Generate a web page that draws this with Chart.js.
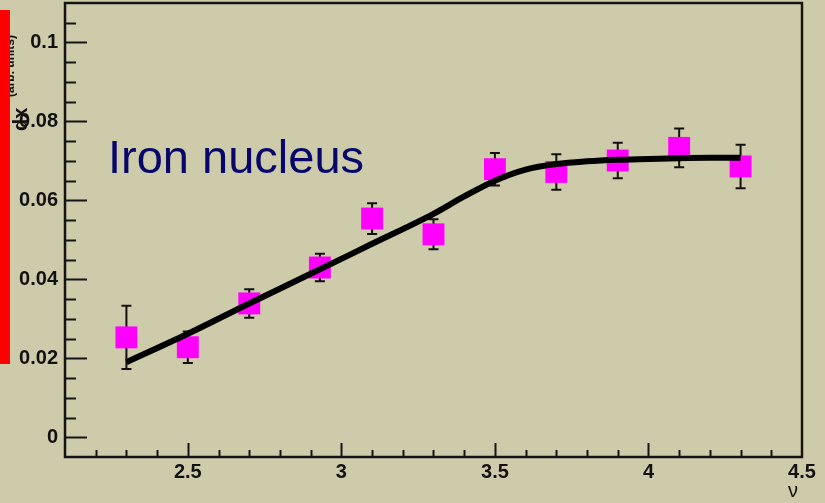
<!DOCTYPE html>
<html>
<head>
<meta charset="utf-8">
<script src="https://cdn.jsdelivr.net/npm/chart.js@4.4.0/dist/chart.umd.min.js"></script>
<style>
html, body { margin: 0; padding: 0; background: #cecbab; }
#wrap { position: relative; width: 825px; height: 503px; }
#redbar { position: absolute; left: 0; top: 10px; width: 10px; height: 354px; background: #ff0000; }
</style>
</head>
<body>
<div id="wrap">
  <canvas id="chart" width="825" height="503"></canvas>
  <div id="redbar"></div>
</div>
<script>
// measured points (nu, ratio, error)
var nuValues    = [2.3, 2.5, 2.7, 2.93, 3.1, 3.3, 3.5, 3.7, 3.9, 4.1, 4.3];
var ratioValues = [0.0253, 0.0228, 0.0339, 0.0430, 0.0554, 0.0514, 0.0679, 0.0672, 0.0701, 0.0733, 0.0686];
var ratioErrors = [0.0080, 0.0040, 0.0036, 0.0035, 0.0039, 0.0038, 0.0041, 0.0045, 0.0045, 0.0049, 0.0055];

// fit curve
var fitNu     = [2.3, 2.5, 2.7, 2.9, 3.1, 3.3, 3.4, 3.5, 3.6, 3.7, 3.8, 3.9, 4.0, 4.1, 4.2, 4.3];
var fitValues = [0.0190, 0.0262, 0.0339, 0.0414, 0.0490, 0.0566, 0.0610, 0.0650, 0.0678, 0.0692, 0.0699, 0.0703, 0.0705, 0.0707, 0.0708, 0.0708];

var xTicks = [2.5, 3, 3.5, 4, 4.5];
var yTicks = [0, 0.02, 0.04, 0.06, 0.08, 0.1];

var ctx = document.getElementById('chart');

var points = nuValues.map(function(v, i) { return {x: v, y: ratioValues[i]}; });
var fit = fitNu.map(function(v, i) { return {x: v, y: fitValues[i]}; });

// frame, inner tick marks, error bars and texts
var decor = {
  id: 'decor',
  beforeDatasetsDraw: function(chart) {
    var c = chart.ctx, a = chart.chartArea;
    var xs = chart.scales.x, ys = chart.scales.y;
    c.save();
    c.strokeStyle = '#141414';
    c.lineWidth = 2;
    // y ticks every 0.005, major every 0.02
    for (var k = 0; k <= 21; k++) {
      var yv = k * 0.005;
      var py = Math.round(ys.getPixelForValue(yv)) + 0.5;
      var len = (k % 4 === 0) ? 22 : 11;
      c.beginPath(); c.moveTo(a.left, py); c.lineTo(a.left + len, py); c.stroke();
    }
    // x ticks every 0.1, major every 0.5
    for (var j = 22; j <= 44; j++) {
      var xv = j / 10;
      var px = Math.round(xs.getPixelForValue(xv)) + 0.5;
      var l2 = (j % 5 === 0) ? 14 : 7;
      c.beginPath(); c.moveTo(px, a.bottom); c.lineTo(px, a.bottom - l2); c.stroke();
    }
    c.lineWidth = 2.5;
    c.strokeRect(a.left, a.top, a.right - a.left, a.bottom - a.top);

    // error bars under the squares
    c.lineWidth = 2;
    c.strokeStyle = '#111';
    nuValues.forEach(function(v, i) {
      var x = xs.getPixelForValue(v);
      var yt = ys.getPixelForValue(ratioValues[i] + ratioErrors[i]);
      var yb = ys.getPixelForValue(ratioValues[i] - ratioErrors[i]);
      c.beginPath();
      c.moveTo(x, yt); c.lineTo(x, yb);
      c.moveTo(x - 5, yt); c.lineTo(x + 5, yt);
      c.moveTo(x - 5, yb); c.lineTo(x + 5, yb);
      c.stroke();
    });
    c.restore();
  },
  afterDraw: function(chart) {
    var c = chart.ctx;
    c.save();
    c.fillStyle = '#06066b';
    c.font = '47px "Liberation Sans", Arial, sans-serif';
    c.textBaseline = 'alphabetic';
    c.fillText('Iron nucleus', 108, 173);

    c.fillStyle = '#111';
    c.font = '20px "Liberation Sans", Arial, sans-serif';
    c.textAlign = 'center';
    c.fillText('\u03bd', 793, 497);

    // y axis title, rotated
    c.textAlign = 'left';
    c.translate(27, 131);
    c.rotate(-Math.PI / 2);
    c.font = 'bold 20px "Liberation Sans", Arial, sans-serif';
    c.fillText('dx', 0, 0);
    c.font = 'bold 12px "Liberation Sans", Arial, sans-serif';
    c.fillText('(arb. units)', 34, -13);
    c.restore();
  }
};

var myChart = new Chart(ctx, {
  type: 'scatter',
  data: {
    datasets: [
      {
        label: 'fit',
        type: 'line',
        data: fit,
        borderColor: '#000',
        borderWidth: 6,
        pointRadius: 0,
        fill: false,
        cubicInterpolationMode: 'monotone',
        order: 0
      },
      {
        label: 'data',
        data: points,
        pointStyle: 'rect',
        pointRadius: 15.5,
        pointHoverRadius: 15.5,
        backgroundColor: '#ff00ff',
        borderWidth: 0,
        order: 1
      }
    ]
  },
  options: {
    responsive: false,
    animation: false,
    devicePixelRatio: 1,
    layout: { autoPadding: false, padding: { top: 3, right: 23, left: 0, bottom: 0 } },
    plugins: { legend: { display: false }, tooltip: { enabled: false } },
    scales: {
      x: {
        type: 'linear',
        min: 2.1,
        max: 4.5,
        afterBuildTicks: function(s) { s.ticks = xTicks.map(function(v) { return {value: v}; }); },
        afterFit: function(s) { s.height = 46; s.paddingLeft = 0; s.paddingRight = 0; },
        grid: { display: false, drawTicks: false },
        border: { display: false },
        ticks: {
          autoSkip: false,
          maxRotation: 0,
          padding: 3,
          color: '#111',
          font: { family: '"Liberation Sans", Arial, sans-serif', weight: 'bold', size: 20 },
          callback: function(v) { return String(v); }
        }
      },
      y: {
        type: 'linear',
        min: -0.005,
        max: 0.11,
        afterBuildTicks: function(s) { s.ticks = yTicks.map(function(v) { return {value: v}; }); },
        afterFit: function(s) { s.width = 65; s.paddingTop = 0; s.paddingBottom = 0; },
        grid: { display: false, drawTicks: false },
        border: { display: false },
        ticks: {
          autoSkip: false,
          padding: 7,
          color: '#111',
          font: { family: '"Liberation Sans", Arial, sans-serif', weight: 'bold', size: 20 },
          callback: function(v) {
            if (v === 0) return '0';
            if (Math.abs(v - 0.1) < 1e-9) return '0.1';
            return v.toFixed(2);
          }
        }
      }
    }
  },
  plugins: [decor]
});
</script>
</body>
</html>
